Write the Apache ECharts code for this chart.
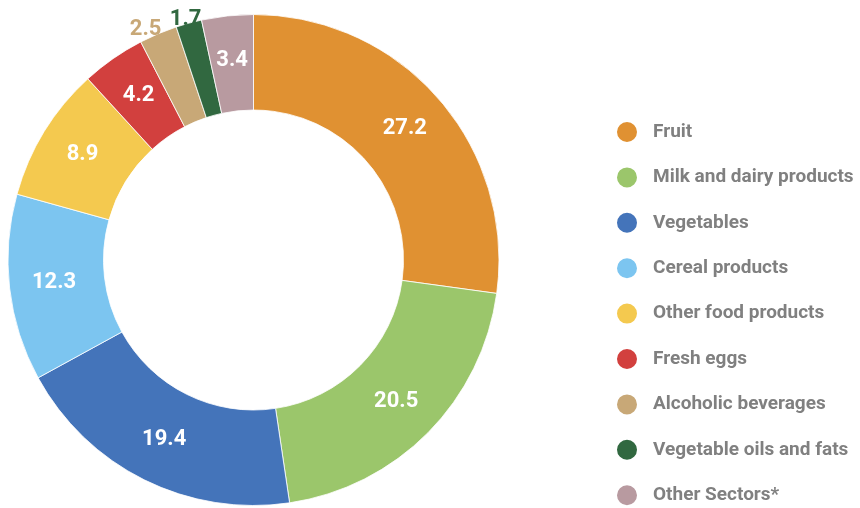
<!DOCTYPE html>
<html>
<head>
<meta charset="utf-8">
<script src="https://cdn.jsdelivr.net/npm/echarts@6/dist/echarts.min.js"></script>
<style>
html, body { margin: 0; padding: 0; background: #fff; }
#main { width: 860px; height: 508px; }
</style>
</head>
<body>
<div id="main"></div>
<script>
// data
var categories = ['Fruit', 'Milk and dairy products', 'Vegetables', 'Cereal products',
	'Other food products', 'Fresh eggs', 'Alcoholic beverages', 'Vegetable oils and fats', 'Other Sectors*'];
var shares = [27.2, 20.5, 19.4, 12.3, 8.9, 4.2, 2.5, 1.7, 3.4];
var colors = ['#E09132', '#9BC66B', '#4474BA', '#7CC5F0', '#F4C94F', '#D2403E', '#C8A877', '#316840', '#B89AA0'];

var font = 'Roboto, "Liberation Sans", sans-serif';

var chart = echarts.init(document.getElementById('main'));

var pieData = [];
for (var i = 0; i < categories.length; i++) {
	var item = { name: categories[i], value: shares[i], itemStyle: { color: colors[i] } };
	// the two thin slices have their number outside, in slice colour
	if (i == 6) {
		item.label = { color: colors[i], offset: [-30, -45] };
	} else if (i == 7) {
		item.label = { color: colors[i], offset: [-15, -47] };
	}
	pieData.push(item);
}

chart.setOption({
	animation: false,
	color: colors,
	legend: {
		orient: 'vertical',
		left: 615,
		top: 120,
		height: 420,
		padding: 0,
		icon: 'circle',
		itemWidth: 22,
		itemHeight: 22,
		itemGap: 21.4,
		data: categories,
		textStyle: {
			fontFamily: font,
			fontWeight: 'bold',
			fontSize: 19,
			lineHeight: 22,
			color: '#808080',
			padding: [0, 0, 0, 10]
		}
	},
	series: [{
		type: 'pie',
		center: [253.5, 260],
		radius: [150, 245.5],
		startAngle: 90,
		clockwise: true,
		avoidLabelOverlap: false,
		itemStyle: { borderColor: '#fff', borderWidth: 0.8 },
		label: {
			show: true,
			position: 'inside',
			formatter: function (p) { return p.value.toFixed(1); },
			fontFamily: font,
			fontWeight: 'bold',
			fontSize: 22,
			color: '#fff'
		},
		labelLine: { show: false },
		emphasis: { disabled: true },
		data: pieData
	}]
});
</script>
</body>
</html>
